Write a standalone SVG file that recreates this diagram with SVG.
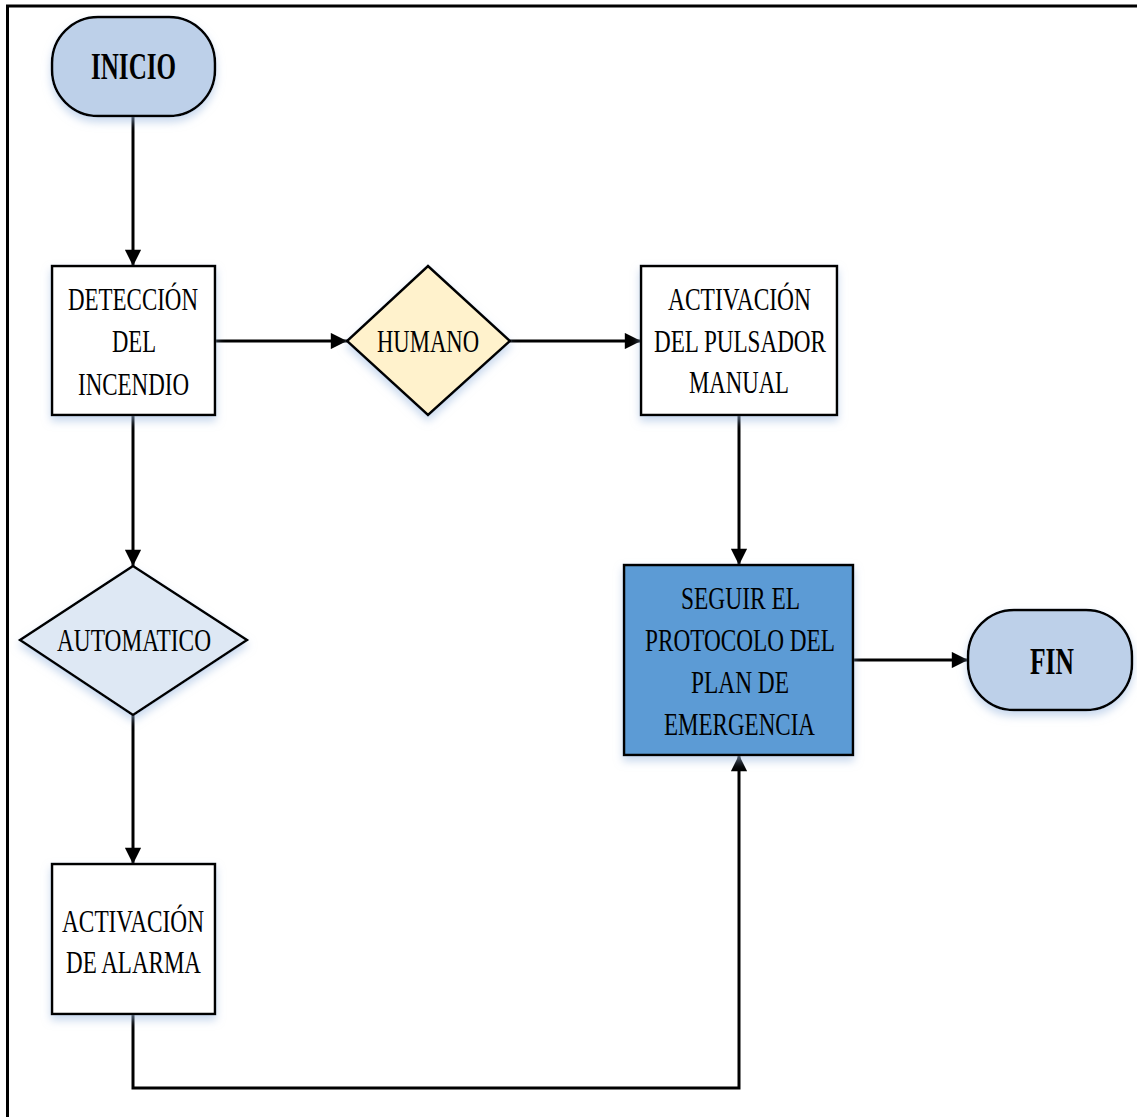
<svg xmlns="http://www.w3.org/2000/svg" width="1137" height="1117" viewBox="0 0 1137 1117">
  <defs>
    <filter id="shadow" x="-20%" y="-20%" width="140%" height="150%">
      <feDropShadow dx="0" dy="5" stdDeviation="4" flood-color="#9DB9E0" flood-opacity="0.55"/>
    </filter>
    <marker id="arrow" viewBox="0 0 10 10" refX="10" refY="5" markerWidth="6" markerHeight="5.4" markerUnits="strokeWidth" orient="auto">
      <path d="M0,0 L10,5 L0,10 Z" fill="#000"/>
    </marker>
  </defs>
  <style>
    .frame { fill: none; stroke: #000; stroke-width: 3; }
    .shape { stroke: #000; stroke-width: 2.5; filter: url(#shadow); }
    .box { fill: #FFFFFF; }
    .term { fill: #BDD0E9; }
    .human { fill: #FFF2CC; }
    .auto { fill: #DEE8F4; }
    .main { fill: #5B9BD5; }
    .label { font-family: "Liberation Serif", "Times New Roman", serif; font-size: 32px; fill: #000; text-anchor: middle; }
    .bold { font-weight: bold; font-size: 38px; }
    .conn { fill: none; stroke: #000; stroke-width: 3; }
    .arr { marker-end: url(#arrow); }
  </style>
  <rect width="1137" height="1117" fill="#FFFFFF"/>
  <!-- page frame: top and left edges only -->
  <path class="frame" d="M7.5,1117 V6 H1137"/>

  <g id="connectors">
    <line class="conn arr" x1="133" y1="116" x2="133" y2="266"/>
    <line class="conn arr" x1="215" y1="341" x2="347" y2="341"/>
    <line class="conn arr" x1="510" y1="341" x2="641" y2="341"/>
    <line class="conn arr" x1="739" y1="415" x2="739" y2="565"/>
    <line class="conn arr" x1="133" y1="415" x2="133" y2="566"/>
    <line class="conn arr" x1="133" y1="715" x2="133" y2="864"/>
    <path class="conn arr" d="M133,1014 V1088 H739 V755"/>
    <line class="conn arr" x1="853" y1="660" x2="968" y2="660"/>
  </g>

  <g id="inicio">
    <rect class="shape term" x="52" y="17" width="163" height="99" rx="46" ry="46"/>
    <text class="label bold" x="133.5" y="79" textLength="85" lengthAdjust="spacingAndGlyphs">INICIO</text>
  </g>

  <g id="deteccion">
    <rect class="shape box" x="52" y="266" width="163" height="149"/>
    <text class="label" x="133" y="310" textLength="130" lengthAdjust="spacingAndGlyphs">DETECCIÓN</text>
    <text class="label" x="134" y="352" textLength="44" lengthAdjust="spacingAndGlyphs">DEL</text>
    <text class="label" x="133.5" y="395" textLength="111" lengthAdjust="spacingAndGlyphs">INCENDIO</text>
  </g>

  <g id="humano">
    <polygon class="shape human" points="428,266 510,341 428,415 347,341"/>
    <text class="label" x="428" y="352" textLength="102" lengthAdjust="spacingAndGlyphs">HUMANO</text>
  </g>

  <g id="pulsador">
    <rect class="shape box" x="641" y="266" width="196" height="149"/>
    <text class="label" x="739.5" y="310" textLength="143" lengthAdjust="spacingAndGlyphs">ACTIVACIÓN</text>
    <text class="label" x="740" y="352" textLength="172" lengthAdjust="spacingAndGlyphs">DEL PULSADOR</text>
    <text class="label" x="739" y="393" textLength="100" lengthAdjust="spacingAndGlyphs">MANUAL</text>
  </g>

  <g id="automatico">
    <polygon class="shape auto" points="133,566 247,640 133,715 20,640"/>
    <text class="label" x="134" y="651" textLength="154" lengthAdjust="spacingAndGlyphs">AUTOMATICO</text>
  </g>

  <g id="protocolo">
    <rect class="shape main" x="624" y="565" width="229" height="190"/>
    <text class="label" x="740.5" y="609" textLength="119" lengthAdjust="spacingAndGlyphs">SEGUIR EL</text>
    <text class="label" x="740" y="651" textLength="190" lengthAdjust="spacingAndGlyphs">PROTOCOLO DEL</text>
    <text class="label" x="740" y="693" textLength="98" lengthAdjust="spacingAndGlyphs">PLAN DE</text>
    <text class="label" x="739.5" y="735" textLength="151" lengthAdjust="spacingAndGlyphs">EMERGENCIA</text>
  </g>

  <g id="fin">
    <rect class="shape term" x="968" y="610" width="164" height="100" rx="46" ry="46"/>
    <text class="label bold" x="1052" y="674" textLength="44" lengthAdjust="spacingAndGlyphs">FIN</text>
  </g>

  <g id="alarma">
    <rect class="shape box" x="52" y="864" width="163" height="150"/>
    <text class="label" x="133" y="932" textLength="142" lengthAdjust="spacingAndGlyphs">ACTIVACIÓN</text>
    <text class="label" x="133.5" y="973" textLength="135" lengthAdjust="spacingAndGlyphs">DE ALARMA</text>
  </g>
</svg>
